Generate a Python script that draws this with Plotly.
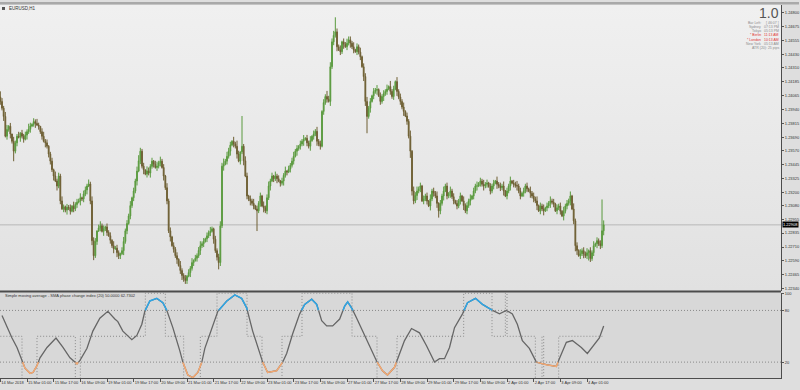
import base64
import plotly.graph_objects as go

# ---------------- data ----------------
CLOSE = [
1.24010,1.23950,1.23876,1.23699,1.23760,1.23788,1.23720,1.23654,1.23566,1.23640,
1.23699,1.23690,1.23726,1.23700,1.23672,1.23710,1.23740,1.23761,1.23790,1.23805,
1.23830,1.23814,1.23800,1.23788,1.23740,1.23699,1.23654,1.23640,1.23610,1.23540,
1.23477,1.23400,1.23344,1.23300,1.23255,1.23344,1.23122,1.23051,1.23070,1.23040,
1.23065,1.23060,1.23030,1.23075,1.23051,1.23090,1.23110,1.23122,1.23150,1.23140,
1.23184,1.23220,1.23255,1.23273,1.23122,1.22767,1.22633,1.22760,1.22855,1.22880,
1.22900,1.22850,1.22873,1.22890,1.22840,1.22811,1.22770,1.22722,1.22695,1.22700,
1.22660,1.22633,1.22650,1.22678,1.22760,1.22855,1.22920,1.22988,1.23080,1.23150,
1.23210,1.23300,1.23388,1.23480,1.23566,1.23432,1.23400,1.23361,1.23390,1.23370,
1.23430,1.23477,1.23450,1.23420,1.23432,1.23460,1.23477,1.23420,1.23344,1.23240,
1.23122,1.22855,1.22800,1.22722,1.22690,1.22633,1.22600,1.22545,1.22500,1.22456,
1.22430,1.22411,1.22450,1.22482,1.22520,1.22571,1.22590,1.22610,1.22633,1.22680,
1.22722,1.22740,1.22760,1.22784,1.22810,1.22838,1.22850,1.22873,1.22780,1.22678,
1.22620,1.22571,1.22900,1.23432,1.23450,1.23477,1.23520,1.23566,1.23620,1.23654,
1.23630,1.23610,1.23540,1.23477,1.23560,1.23610,1.23480,1.23344,1.23166,1.23140,
1.23122,1.23100,1.23077,1.23050,1.23033,1.23100,1.23166,1.23077,1.23060,1.23033,
1.23150,1.23255,1.23300,1.23344,1.23320,1.23344,1.23320,1.23299,1.23280,1.23299,
1.23350,1.23388,1.23380,1.23406,1.23440,1.23477,1.23520,1.23566,1.23590,1.23610,
1.23630,1.23654,1.23670,1.23681,1.23640,1.23610,1.23660,1.23699,1.23720,1.23743,
1.23654,1.23630,1.23610,1.23921,1.24000,1.24054,1.24030,1.24010,1.24320,1.24542,
1.24600,1.24631,1.24498,1.24470,1.24454,1.24542,1.24520,1.24498,1.24530,1.24560,
1.24530,1.24498,1.24470,1.24454,1.24498,1.24450,1.24409,1.24320,1.24232,1.24010,
1.23876,1.23950,1.24010,1.24060,1.24099,1.24110,1.24116,1.24060,1.24010,1.24054,
1.24080,1.24099,1.24120,1.24143,1.24100,1.24054,1.24120,1.24187,1.24099,1.24050,
1.24010,1.23960,1.23921,1.23880,1.23832,1.23700,1.23566,1.23210,1.23122,1.23170,
1.23210,1.23230,1.23255,1.23122,1.23140,1.23166,1.23120,1.23077,1.23140,1.23210,
1.23190,1.23166,1.23100,1.23033,1.23100,1.23166,1.23210,1.23255,1.23166,1.23190,
1.23210,1.23160,1.23122,1.23100,1.23077,1.23120,1.23166,1.23122,1.23080,1.23033,
1.23080,1.23122,1.23140,1.23166,1.23210,1.23255,1.23255,1.23280,1.23299,1.23270,
1.23255,1.23270,1.23282,1.23250,1.23210,1.23255,1.23280,1.23299,1.23270,1.23255,
1.23240,1.23255,1.23210,1.23166,1.23210,1.23255,1.23299,1.23280,1.23273,1.23260,
1.23255,1.23210,1.23166,1.23190,1.23210,1.23255,1.23230,1.23210,1.23190,1.23166,
1.23140,1.23122,1.23080,1.23033,1.23077,1.23050,1.23033,1.23060,1.23077,1.23100,
1.23122,1.23110,1.23095,1.23033,1.23060,1.23077,1.23030,1.22988,1.23030,1.23077,
1.23100,1.23122,1.23166,1.23050,1.22944,1.22722,1.22680,1.22633,1.22650,1.22678,
1.22650,1.22633,1.22660,1.22678,1.22607,1.22660,1.22722,1.22740,1.22767,1.22740,
1.22722,1.22855,1.22908,
]
OPEN_FIRST = 1.24050
# wick lengths in pips, one base-36 character per bar
UPPER_WICK = ("5324413042 2413232531 3242034231 2314232421 3231423241 3324243303 "
              "4231323142 3213423241 3245323043 2313424231 4231323142 2313241323 "
              "4231324213 2343524331 42530r2431 3241323142 3423142313 2413234231 "
              "3241324132 4231325343 4d32413243 3241324133 4231324132 3241523142 "
              "3241325143 4231323142 3241324231 4231323142 3241324132 4231323142 "
              "3241324132 4231323142 3241324132 4231323142 3241523142 3241324132 3s4")
LOWER_WICK = ("3241324292 3142314231 2413231423 3241423132 4231323142 3241344231 "
              "3142313241 4331423132 3241324132 4231323142 3241324134 3331423132 "
              "4231323142 3632413241 3241324132 4231i23142 3241324132 4231323142 "
              "3241324132 4231323142 3241324132 4231323144 f241324132 4231323142 "
              "3241326432 4231323142 3246324132 4231323142 3241324132 4231323142 "
              "3241324132 4231323142 3241324132 4231323142 3241354132 4237323142 324")
PIP = 0.0001
LAST_PRICE = 1.22908

X_LABELS = ["14 Mar 2018", "15 Mar 01:00", "15 Mar 17:00", "16 Mar 09:00", "19 Mar 01:00",
            "19 Mar 17:00", "20 Mar 09:00", "21 Mar 01:00", "21 Mar 17:00", "22 Mar 09:00",
            "23 Mar 01:00", "23 Mar 17:00", "26 Mar 09:00", "27 Mar 01:00", "27 Mar 17:00",
            "28 Mar 09:00", "29 Mar 01:00", "29 Mar 17:00", "30 Mar 09:00", "2 Apr 01:00",
            "2 Apr 17:00", "3 Apr 09:00", "4 Apr 01:00"]
BARS_PER_LABEL = 16

PRICE_TICKS = ["1.24800", "1.24675", "1.24555", "1.24430", "1.24310", "1.24185", "1.24065",
               "1.23940", "1.23815", "1.23690", "1.23570", "1.23445", "1.23325", "1.23200",
               "1.23080", "1.22955", "1.22835", "1.22710", "1.22590", "1.22465", "1.22340"]

# indicator (phase change index) sampled along the bars
IND_X = [1.0, 4.0, 7.0, 10.0, 13.0, 14.8, 17.8, 19.6, 22.0, 23.8, 28.0, 33.4, 37.6, 41.8, 46.0,
         47.8, 52.0, 55.5, 59.7, 64.5, 68.7, 70.5, 73.5, 78.9, 81.9, 84.9, 86.7, 89.7, 93.9,
         97.5, 99.9, 103.5, 107.7, 109.5, 112.5, 115.5, 118.5, 120.9, 122.7, 126.9, 130.5,
         135.9, 140.7, 144.8, 147.8, 151.4, 155.6, 157.4, 160.4, 165.8, 169.4, 171.8, 175.4,
         179.6, 182.6, 186.8, 189.8, 192.8, 195.8, 199.4, 203.6, 206.6, 208.4, 210.8, 213.8,
         217.4, 221.6, 225.8, 229.3, 232.3, 236.5, 239.5, 242.5, 246.7, 251.5, 255.7, 260.5,
         263.5, 266.5, 269.5, 272.5, 277.3, 280.3, 285.1, 289.3, 295.3, 299.5, 303.6, 307.2,
         310.2, 313.2, 317.4, 321.6, 327.6, 333.6, 335.4, 339.6, 343.2, 348.6, 352.2, 356.4,
         359.4, 362.0]
IND_V = [74, 60, 48, 37, 22, 13, 7, 8, 16, 25, 37, 48, 37, 25, 18,
         22, 36, 56, 71, 79, 70, 67, 56, 46, 51, 64, 79, 91, 94,
         89, 80, 60, 33, 20, 5, 2, 8, 20, 36, 60, 79,
         91, 98, 94, 83, 56, 30, 20, 8, 10, 20, 30, 53,
         76, 87, 93, 87, 68, 62, 62, 70, 85, 90, 83, 71,
         56, 37, 21, 10, 5, 14, 30, 45, 59, 54, 39, 20,
         24, 24, 37, 60, 76, 89, 94, 87, 80, 76, 80, 76,
         64, 45, 36, 20, 17, 15, 24, 43, 45, 37, 30, 41,
         48, 62]
STEP_X = [0, 13, 22, 45, 48, 87, 99, 110, 120, 130, 148, 157, 169, 181, 211, 226, 238,
          278, 295, 303, 304, 321, 325, 326, 335, 362]
STEP_V = [50, 0, 50, 0, 50, 100, 50, 0, 50, 100, 50, 0, 50, 100, 50, 0, 50,
          100, 50, 100, 50, 0, 50, 0, 50, 50]
LEVELS = [80, 20]

# ---------------- build ----------------
uw = UPPER_WICK.replace(" ", "")
lw = LOWER_WICK.replace(" ", "")
n = len(CLOSE)
opens = [OPEN_FIRST] + CLOSE[:-1]
highs = [max(o, c) + int(uw[i], 36) * PIP for i, (o, c) in enumerate(zip(opens, CLOSE))]
lows = [min(o, c) - int(lw[i], 36) * PIP for i, (o, c) in enumerate(zip(opens, CLOSE))]
xs = list(range(n))

Y_MIN, Y_MAX = 1.22322, 1.24871
X_MIN, X_MAX = -0.2, 468.4
XD = 782 / 800
MAIN_DOM = [1 - 290 / 390, 1 - 3 / 390]
IND_DOM = [1 - 378 / 390, 1 - 292 / 390]
FONT = "Liberation Sans, Arial, sans-serif"
DOT = "1px,2px"


def colored(xv, vv, thr, above):
    ox, oy = [], []
    last = None
    for k in range(len(xv) - 1):
        x0, v0, x1, v1 = xv[k], vv[k], xv[k + 1], vv[k + 1]
        in0 = v0 >= thr if above else v0 <= thr
        in1 = v1 >= thr if above else v1 <= thr
        if not (in0 or in1):
            continue
        if in0 and in1:
            a, b = (x0, v0), (x1, v1)
        else:
            t = (thr - v0) / (v1 - v0)
            xc = x0 + t * (x1 - x0)
            a, b = ((x0, v0), (xc, thr)) if in0 else ((xc, thr), (x1, v1))
        if last != a:
            if ox:
                ox.append(None); oy.append(None)
            ox.append(a[0]); oy.append(a[1])
        ox.append(b[0]); oy.append(b[1])
        last = b
    return ox, oy


fig = go.Figure()

fig.add_trace(go.Candlestick(
    x=xs, open=opens, high=highs, low=lows, close=CLOSE,
    increasing=dict(line=dict(color="#5a9a3e", width=1), fillcolor="#5a9a3e"),
    decreasing=dict(line=dict(color="#6e5f33", width=1), fillcolor="#6e5f33"),
    whiskerwidth=0, showlegend=False, hoverinfo="skip", xaxis="x", yaxis="y"))

# indicator
fig.add_trace(go.Scatter(x=STEP_X, y=STEP_V, mode="lines",
                         line=dict(color="#8a8a8a", width=1, dash=DOT, shape="hv"),
                         showlegend=False, hoverinfo="skip", xaxis="x", yaxis="y2"))
fig.add_trace(go.Scatter(x=IND_X, y=IND_V, mode="lines", line=dict(color="#666666", width=1.3),
                         showlegend=False, hoverinfo="skip", xaxis="x", yaxis="y2"))
bx, by = colored(IND_X, IND_V, LEVELS[0], True)
fig.add_trace(go.Scatter(x=bx, y=by, mode="lines", line=dict(color="#2ea6e6", width=1.5),
                         showlegend=False, hoverinfo="skip", xaxis="x", yaxis="y2"))
ox, oy = colored(IND_X, IND_V, LEVELS[1], False)
fig.add_trace(go.Scatter(x=ox, y=oy, mode="lines", line=dict(color="#f4a871", width=1.5),
                         showlegend=False, hoverinfo="skip", xaxis="x", yaxis="y2"))

# background gradient for the price panel (svg image)
svg = ('<svg xmlns="http://www.w3.org/2000/svg" width="20" height="200" preserveAspectRatio="none">'
       '<defs><linearGradient id="g" x1="0" y1="0" x2="0" y2="1">'
       '<stop offset="0" stop-color="#f0f0f0"/><stop offset="1" stop-color="#e1e1e1"/>'
       '</linearGradient></defs><rect width="20" height="200" fill="url(#g)"/></svg>')
src = "data:image/svg+xml;base64," + base64.b64encode(svg.encode()).decode()
images = [dict(source=src, xref="paper", yref="paper", x=0, y=MAIN_DOM[1], sizex=XD,
               sizey=MAIN_DOM[1] - MAIN_DOM[0], xanchor="left", yanchor="top",
               sizing="stretch", layer="below")]

shapes = [
    dict(type="rect", xref="paper", yref="paper", x0=0, x1=XD, y0=IND_DOM[0], y1=IND_DOM[1],
         fillcolor="#d8d8d8", line=dict(width=0), layer="below"),
    dict(type="rect", xref="paper", yref="paper", x0=0, x1=1, y0=1 - 2.5 / 390, y1=1,
         fillcolor="#a9a9a9", line=dict(width=0)),
    dict(type="line", xref="paper", yref="paper", x0=0, x1=XD, y0=1 - 291 / 390, y1=1 - 291 / 390,
         line=dict(color="#4c4c4c", width=2)),
    dict(type="line", xref="paper", yref="y", x0=0, x1=XD, y0=LAST_PRICE, y1=LAST_PRICE,
         line=dict(color="#b8b8b8", width=1), layer="below"),
    dict(type="rect", xref="paper", yref="paper", x0=2 / 800, x1=5 / 800, y0=1 - 8 / 390, y1=1 - 5 / 390,
         fillcolor="#555555", line=dict(width=0)),
]
for lv in LEVELS:
    shapes.append(dict(type="line", xref="paper", yref="y2", x0=0, x1=XD, y0=lv, y1=lv,
                       line=dict(color="#8a8a8a", width=1, dash=DOT)))

ann = [
    dict(text="EURUSD,H1", x=7 / 800, y=1 - 6.5 / 390, xref="paper", yref="paper", xanchor="left",
         yanchor="middle", showarrow=False, font=dict(size=4.5, color="#333", family=FONT)),
    dict(text="Simple moving average - SMA phase change index (20) 50.0000 62.7302", x=3 / 800,
         y=1 - 295.5 / 390, xref="paper", yref="paper", xanchor="left", yanchor="middle",
         showarrow=False, font=dict(size=4, color="#333", family=FONT)),
    dict(text=LAST_PRICE.__format__(".5f"), x=783 / 800, y=LAST_PRICE, xref="paper", yref="y",
         xanchor="left", yanchor="middle", showarrow=False, bgcolor="#000000", borderpad=0,
         font=dict(size=4, color="#ffffff", family=FONT)),
    dict(text="1.0", x=781 / 800, y=1 - 2 / 390, xref="paper", yref="paper", xanchor="right",
         yanchor="top", showarrow=False, borderpad=0,
         font=dict(size=14, color="#555555", family=FONT)),
]
INFO_L = ["Bar Left:", "Sydney", "Tokyo", "* Berlin", "* London", "New York"]
INFO_R = ["[ 46:07 ]", "07:13 PM", "05:13 PM", "11:13 AM", "10:13 AM", "05:13 AM"]
INFO_C = ["#8c8c8c", "#8c8c8c", "#8c8c8c", "#e03232", "#e03232", "#8c8c8c"]
for k, (l, r, c) in enumerate(zip(INFO_L, INFO_R, INFO_C)):
    yy = 1 - (21 + 4.2 * k) / 390
    ann.append(dict(text=l, x=763 / 800, y=yy, xref="paper", yref="paper", xanchor="right",
                    yanchor="middle", showarrow=False, borderpad=0,
                    font=dict(size=3.5, color=c, family=FONT)))
    ann.append(dict(text=r, x=781 / 800, y=yy, xref="paper", yref="paper", xanchor="right",
                    yanchor="middle", showarrow=False, borderpad=0,
                    font=dict(size=3.5, color=c, family=FONT)))
ann.append(dict(text="ATR (20): 25 pips", x=781 / 800, y=1 - 46.2 / 390, xref="paper", yref="paper",
                xanchor="right", yanchor="middle", showarrow=False, borderpad=0,
                font=dict(size=3.5, color="#8c8c8c", family=FONT)))

fig.update_layout(
    width=800, height=390, margin=dict(l=0, r=0, t=0, b=0),
    paper_bgcolor="#dedede", plot_bgcolor="rgba(0,0,0,0)",
    shapes=shapes, annotations=ann, images=images, showlegend=False,
    xaxis=dict(domain=[0, XD], range=[X_MIN, X_MAX], anchor="y2", rangeslider=dict(visible=False),
               tickvals=[k * BARS_PER_LABEL for k in range(len(X_LABELS))], ticktext=X_LABELS,
               ticklabelposition="outside right", tickangle=0, ticks="outside", ticklen=3,
               tickcolor="#555", tickfont=dict(size=4, color="#333", family=FONT), showgrid=False,
               zeroline=False, showline=True, linecolor="#4c4c4c", linewidth=1, fixedrange=True),
    yaxis=dict(domain=MAIN_DOM, range=[Y_MIN, Y_MAX], side="right", anchor="x",
               tickvals=[float(t) for t in PRICE_TICKS], ticktext=PRICE_TICKS, ticks="outside",
               ticklen=2, tickcolor="#555", tickfont=dict(size=4, color="#333", family=FONT),
               showgrid=False, zeroline=False, showline=True, linecolor="#4c4c4c", linewidth=1),
    yaxis2=dict(domain=IND_DOM, range=[1.5, 100.8], side="right", anchor="x",
                tickvals=[100, 80, 20], ticktext=["100", "80", "20"], ticks="outside", ticklen=2,
                tickcolor="#555", tickfont=dict(size=4, color="#333", family=FONT),
                showgrid=False, zeroline=False, showline=True, linecolor="#4c4c4c", linewidth=1),
)

fig.write_html("out.html")
